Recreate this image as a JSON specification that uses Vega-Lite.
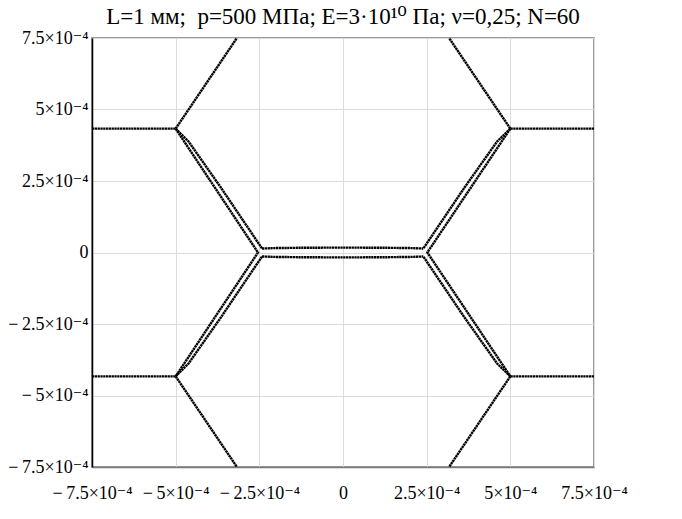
{
  "$schema": "https://vega.github.io/schema/vega-lite/v6.json",
  "width": 502,
  "height": 429,
  "autosize": {"type": "none"},
  "padding": {"left": 92, "top": 38, "right": 88, "bottom": 52},
  "background": "white",
  "title": {
    "text": "L=1 мм;\u00a0 p=500 МПа; E=3·10¹⁰ Па; ν=0,25; N=60",
    "font": "'Liberation Serif', 'DejaVu Serif', 'Times New Roman', serif",
    "fontSize": 23,
    "fontWeight": "normal",
    "color": "black",
    "anchor": "middle",
    "offset": 0
  },
  "config": {
    "view": {"stroke": "#7a7a7a", "strokeWidth": 1.5},
    "axis": {
      "labelFont": "'Liberation Serif', 'DejaVu Serif', 'Times New Roman', serif",
      "labelFontSize": 18,
      "labelColor": "black",
      "labelOverlap": false,
      "labelBound": false,
      "labelFlush": false,
      "gridColor": "#dcdcdc",
      "gridWidth": 1,
      "ticks": false,
      "title": null
    }
  },
  "data": {
    "values": [
      {"seg": "a1", "o": 0, "x": -0.00075, "y": 0.000433},
      {"seg": "a1", "o": 1, "x": -0.0005, "y": 0.000433},
      {"seg": "a2", "o": 0, "x": -0.0005, "y": 0.000433},
      {"seg": "a2", "o": 1, "x": -0.000317, "y": 0.00075},
      {"seg": "a3", "o": 0, "x": 0.00075, "y": 0.000433},
      {"seg": "a3", "o": 1, "x": 0.0005, "y": 0.000433},
      {"seg": "a4", "o": 0, "x": 0.0005, "y": 0.000433},
      {"seg": "a4", "o": 1, "x": 0.000317, "y": 0.00075},
      {"seg": "b1", "o": 0, "x": -0.00075, "y": -0.000433},
      {"seg": "b1", "o": 1, "x": -0.0005, "y": -0.000433},
      {"seg": "b2", "o": 0, "x": -0.0005, "y": -0.000433},
      {"seg": "b2", "o": 1, "x": -0.000317, "y": -0.00075},
      {"seg": "b3", "o": 0, "x": 0.00075, "y": -0.000433},
      {"seg": "b3", "o": 1, "x": 0.0005, "y": -0.000433},
      {"seg": "b4", "o": 0, "x": 0.0005, "y": -0.000433},
      {"seg": "b4", "o": 1, "x": 0.000317, "y": -0.00075},
      {"seg": "lo", "o": 0, "x": -0.0005, "y": 0.000433},
      {"seg": "lo", "o": 1, "x": -0.000254, "y": 0.0},
      {"seg": "lo", "o": 2, "x": -0.0005, "y": -0.000433},
      {"seg": "liu", "o": 0, "x": -0.0005, "y": 0.000433},
      {"seg": "liu", "o": 1, "x": -0.0004615, "y": 0.0003882},
      {"seg": "liu", "o": 2, "x": -0.0003644, "y": 0.0002261},
      {"seg": "liu", "o": 3, "x": -0.000242, "y": 0.000014},
      {"seg": "lil", "o": 0, "x": -0.0005, "y": -0.000433},
      {"seg": "lil", "o": 1, "x": -0.0004615, "y": -0.0003882},
      {"seg": "lil", "o": 2, "x": -0.0003644, "y": -0.0002261},
      {"seg": "lil", "o": 3, "x": -0.000242, "y": -0.000014},
      {"seg": "ro", "o": 0, "x": 0.0005, "y": 0.000433},
      {"seg": "ro", "o": 1, "x": 0.000252, "y": 0.0},
      {"seg": "ro", "o": 2, "x": 0.0005, "y": -0.000433},
      {"seg": "riu", "o": 0, "x": 0.0005, "y": 0.000433},
      {"seg": "riu", "o": 1, "x": 0.0004605, "y": 0.0003882},
      {"seg": "riu", "o": 2, "x": 0.0003624, "y": 0.0002261},
      {"seg": "riu", "o": 3, "x": 0.00024, "y": 0.000014},
      {"seg": "ril", "o": 0, "x": 0.0005, "y": -0.000433},
      {"seg": "ril", "o": 1, "x": 0.0004605, "y": -0.0003882},
      {"seg": "ril", "o": 2, "x": 0.0003624, "y": -0.0002261},
      {"seg": "ril", "o": 3, "x": 0.00024, "y": -0.000014},
      {"seg": "cu", "o": 0, "x": -0.000242, "y": 0.000014},
      {"seg": "cu", "o": 1, "x": -0.0002, "y": 0.0000155},
      {"seg": "cu", "o": 2, "x": -0.0001, "y": 0.0000168},
      {"seg": "cu", "o": 3, "x": 0.0, "y": 0.000017},
      {"seg": "cu", "o": 4, "x": 0.0001, "y": 0.0000168},
      {"seg": "cu", "o": 5, "x": 0.0002, "y": 0.0000155},
      {"seg": "cu", "o": 6, "x": 0.00024, "y": 0.000014},
      {"seg": "cl", "o": 0, "x": -0.000242, "y": -0.000014},
      {"seg": "cl", "o": 1, "x": -0.0002, "y": -0.0000155},
      {"seg": "cl", "o": 2, "x": -0.0001, "y": -0.0000168},
      {"seg": "cl", "o": 3, "x": 0.0, "y": -0.000017},
      {"seg": "cl", "o": 4, "x": 0.0001, "y": -0.0000168},
      {"seg": "cl", "o": 5, "x": 0.0002, "y": -0.0000155},
      {"seg": "cl", "o": 6, "x": 0.00024, "y": -0.000014}
    ]
  },
  "mark": {
    "type": "line",
    "color": "black",
    "strokeWidth": 2.4,
    "strokeDash": [2.3, 0.5],
    "clip": true
  },
  "encoding": {
    "x": {
      "field": "x",
      "type": "quantitative",
      "scale": {"domain": [-0.00075, 0.00075], "nice": false, "zero": false},
      "axis": {
        "values": [-0.00075, -0.0005, -0.00025, 0, 0.00025, 0.0005, 0.00075],
        "labelExpr": "datum.value == 0 ? '0' : (datum.value < 0 ? '−\u2009' : '') + format(abs(datum.value) * 10000, '.2~f') + '×10⁻⁴'",
        "labelPadding": 17,
        "domainColor": "#7a7a7a",
        "domainWidth": 1.5
      }
    },
    "y": {
      "field": "y",
      "type": "quantitative",
      "scale": {"domain": [-0.00075, 0.00075], "nice": false, "zero": false},
      "axis": {
        "values": [-0.00075, -0.0005, -0.00025, 0, 0.00025, 0.0005, 0.00075],
        "labelExpr": "datum.value == 0 ? '0' : (datum.value < 0 ? '−\u2009' : '') + format(abs(datum.value) * 10000, '.2~f') + '×10⁻⁴'",
        "labelPadding": 4,
        "domainColor": "black",
        "domainWidth": 1.5
      }
    },
    "detail": {"field": "seg", "type": "nominal"},
    "order": {"field": "o", "type": "quantitative"}
  }
}
